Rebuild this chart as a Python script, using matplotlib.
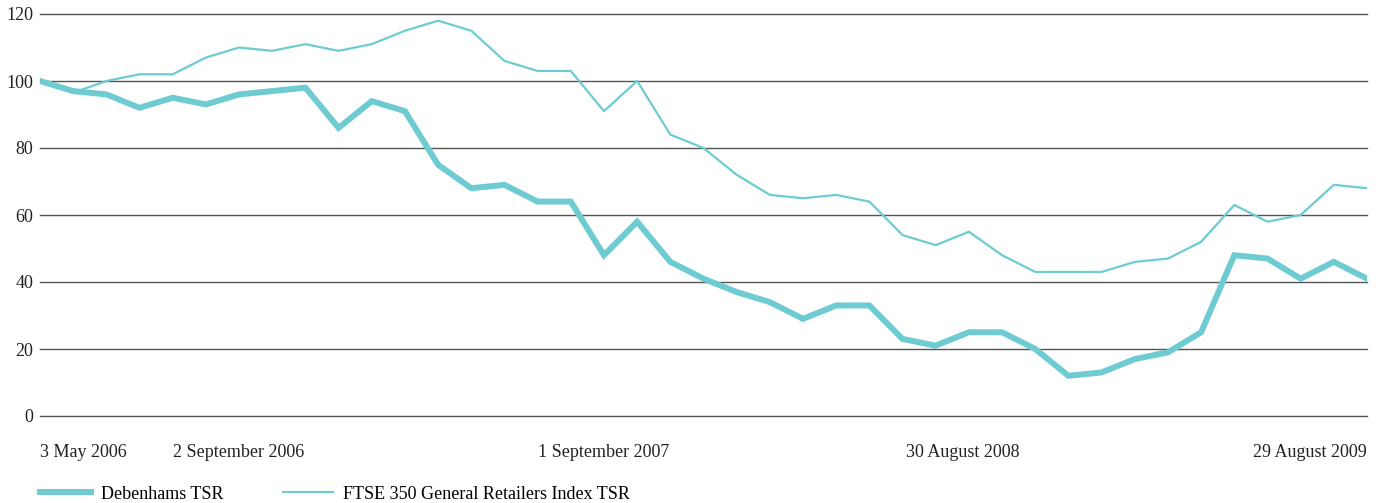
"""
Debenhams TSR vs FTSE 350 General Retailers Index TSR, rebased to 100
"""

import matplotlib.pyplot as plt

# monthly observations, 3 May 2006 .. 29 August 2009
debenhams = [100, 97, 96, 92, 95, 93, 96, 97, 98, 86, 94, 91, 75, 68, 69, 64, 64,
             48, 58, 46, 41, 37, 34, 29, 33, 33, 23, 21, 25, 25, 20, 12, 13, 17,
             19, 25, 48, 47, 41, 46, 41]
ftse_retail = [100, 96.5, 100, 102, 102, 107, 110, 109, 111, 109, 111, 115, 118,
               115, 106, 103, 103, 91, 100, 84, 80, 72, 66, 65, 66, 64, 54, 51,
               55, 48, 43, 43, 43, 46, 47, 52, 63, 58, 60, 69, 68]

tick_pos = [0, 6, 17, 27.8, 40]
tick_labels = ["3 May 2006", "2 September 2006", "1 September 2007",
               "30 August 2008", "29 August 2009"]
y_ticks = [0, 20, 40, 60, 80, 100, 120]

teal = "#6ecbd2"
plt.rcParams["font.family"] = ["Liberation Serif", "DejaVu Serif"]

fig = plt.figure(figsize=(13.79, 5.03), dpi=100)
ax = fig.add_axes([40 / 1379, 87 / 503, 1327 / 1379, 402 / 503])

months = range(len(debenhams))
ax.plot(months, debenhams, color=teal, lw=4.3, solid_joinstyle="miter",
        label="Debenhams TSR", zorder=3)
ax.plot(months, ftse_retail, color=teal, lw=1.6, label="FTSE 350 General Retailers Index TSR",
        zorder=3)

for y in y_ticks:
    ax.axhline(y, color="#555555", lw=1.0, zorder=1, clip_on=False)

ax.set_xlim(0, len(debenhams) - 1)
ax.set_ylim(0, 120)
ax.set_yticks(y_ticks)
ax.set_xticks(tick_pos)
ax.set_xticklabels(tick_labels)
ax.tick_params(axis="both", length=0, labelsize=13, colors="#222222")
ax.tick_params(axis="y", pad=5)
ax.tick_params(axis="x", pad=20)
xl = ax.get_xticklabels()
xl[0].set_ha("left")
xl[-1].set_ha("right")
for s in ax.spines.values():
    s.set_visible(False)

fig.legend(loc="lower left", bbox_to_anchor=(24 / 1379, -16 / 503), ncol=2,
           frameon=False, fontsize=13, handlelength=2.8, columnspacing=3.3,
           handletextpad=0.55)

plt.savefig("out.png", dpi=100)
